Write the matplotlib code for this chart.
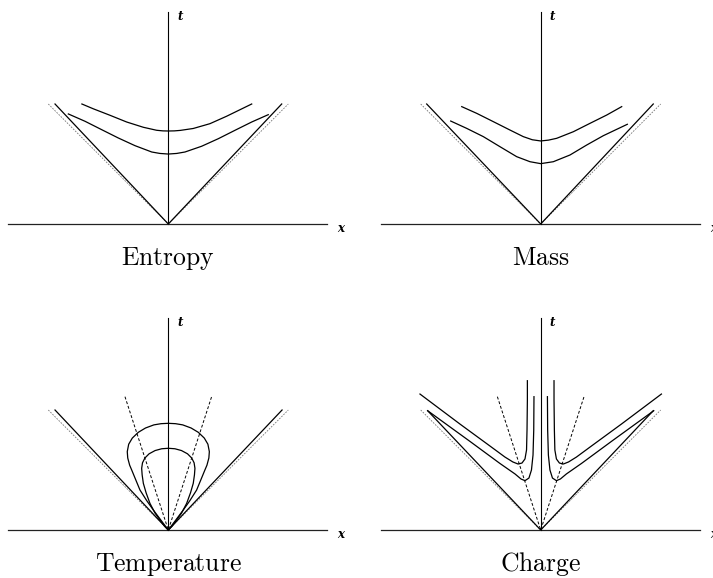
import matplotlib
matplotlib.use('Agg')
import matplotlib.pyplot as plt

plt.rcParams['mathtext.fontset'] = 'cm'

W, H = 713, 578
PX = 120.0  # pixels per unit, light cone reaches t=1

# ---- data (x, t in cone units) ----
# Entropy
ent_up_x = [-0.72, -0.625, -0.486, -0.347, -0.208, -0.097, -0.045, 0.0, 0.05, 0.1, 0.208, 0.347, 0.486, 0.695]
ent_up_t = [1.00, 0.96, 0.906, 0.85, 0.806, 0.781, 0.776, 0.775, 0.776, 0.780, 0.796, 0.836, 0.898, 1.00]
ent_lo_x = [-0.833, -0.694, -0.555, -0.417, -0.278, -0.138, -0.07, 0.0, 0.07, 0.139, 0.278, 0.417, 0.556, 0.695, 0.833]
ent_lo_t = [0.917, 0.856, 0.786, 0.717, 0.653, 0.60, 0.588, 0.583, 0.588, 0.60, 0.648, 0.711, 0.781, 0.85, 0.911]
ent_cone = [-0.944, 0.945]

# Mass
mass_up_x = [-0.658, -0.533, -0.395, -0.256, -0.145, -0.07, 0.0, 0.065, 0.133, 0.272, 0.411, 0.55, 0.675]
mass_up_t = [0.978, 0.922, 0.853, 0.783, 0.728, 0.702, 0.692, 0.699, 0.714, 0.769, 0.839, 0.908, 0.978]
mass_lo_x = [-0.75, -0.617, -0.478, -0.339, -0.2, -0.089, 0.0, 0.105, 0.244, 0.383, 0.522, 0.722]
mass_lo_t = [0.858, 0.797, 0.728, 0.644, 0.561, 0.519, 0.503, 0.519, 0.575, 0.658, 0.736, 0.831]
mass_cone = [-0.95, 0.938]

# Temperature: left halves of the closed loops (origin -> top), mirrored for the right
temp_out_x = [0.0, -0.06, -0.125, -0.18, -0.236, -0.272, -0.305, -0.322, -0.338, -0.342,
              -0.33, -0.30, -0.25, -0.19, -0.12, -0.06, 0.0]
temp_out_t = [0.0, 0.08, 0.167, 0.245, 0.333, 0.42, 0.50, 0.54, 0.60, 0.653,
              0.715, 0.766, 0.814, 0.85, 0.876, 0.886, 0.889]
temp_in_x = [0.0, -0.03, -0.069, -0.11, -0.153, -0.185, -0.208, -0.218, -0.222,
             -0.215, -0.195, -0.16, -0.11, -0.055, 0.0]
temp_in_t = [0.0, 0.03, 0.083, 0.14, 0.222, 0.31, 0.389, 0.46, 0.514,
             0.56, 0.60, 0.635, 0.662, 0.677, 0.681]
temp_steep = [-0.361, 0.361]
steep_t = 1.111
temp_cone = [-0.944, 0.948]

# Charge (left branches; right branches mirrored)
chg_out_x = [-1.006, -0.673, -0.423, -0.298, -0.232, -0.189, -0.156, -0.131, -0.118, -0.114, -0.111, -0.111]
chg_out_t = [1.133, 0.883, 0.7, 0.608, 0.567, 0.55, 0.558, 0.592, 0.667, 0.833, 1.083, 1.244]
chg_in_x = [-0.942, -0.589, -0.339, -0.214, -0.164, -0.131, -0.098, -0.077, -0.064, -0.058, -0.056]
chg_in_t = [0.994, 0.738, 0.554, 0.467, 0.425, 0.411, 0.433, 0.5, 0.625, 0.833, 1.111]
chg_cone = [-0.942, 0.938]

# panel origins in pixels (from top-left) and axis extents
origins = [(168.3, 224), (540.7, 224), (168.3, 530), (540.7, 530)]
titles = ['Entropy', 'Mass', 'Temperature', 'Charge']
x_left, x_right, t_top = -1.333, 1.325, 1.77

fig = plt.figure(figsize=(W / 100, H / 100), dpi=100)


def panel(i):
    ox, oy = origins[i]
    ax = fig.add_axes([0, 0, 1, 1])
    ax.set_xlim(-ox / PX, (W - ox) / PX)
    ax.set_ylim(-(H - oy) / PX, oy / PX)
    ax.axis('off')
    ax.patch.set_alpha(0)
    # axes
    ax.plot([x_left, x_right], [0, 0], color='#222222', lw=0.9)
    ax.plot([0, 0], [0, t_top], color='black', lw=0.8)
    ax.text(0.075, t_top - 0.045, 't', family='DejaVu Serif', style='italic', weight='heavy',
            fontsize=8.5, ha='left', va='center')
    ax.text(x_right + 0.085, -0.035, 'x', family='DejaVu Serif', style='italic', weight='heavy',
            fontsize=8.5, ha='left', va='center')
    ax.text(0.0, -0.285, r'$\mathrm{%s}$' % titles[i], fontsize=18.5, ha='center', va='center')
    # light cone (thin grey dashed)
    ax.plot([-1, 0, 1], [1, 0, 1], color='#777777', lw=0.6, ls=(0, (2, 1.5)))
    return ax


# Entropy
ax = panel(0)
ax.plot([ent_cone[0], 0, ent_cone[1]], [1, 0, 1], color='black', lw=0.9)
ax.plot(ent_up_x, ent_up_t, color='black', lw=0.9)
ax.plot(ent_lo_x, ent_lo_t, color='black', lw=0.9)

# Mass
ax = panel(1)
ax.plot([mass_cone[0], 0, mass_cone[1]], [1, 0, 1], color='black', lw=0.9)
ax.plot(mass_up_x, mass_up_t, color='black', lw=0.9)
ax.plot(mass_lo_x, mass_lo_t, color='black', lw=0.9)

# Temperature
ax = panel(2)
ax.plot([temp_cone[0], 0, temp_cone[1]], [1, 0, 1], color='black', lw=0.9)
ax.plot([temp_steep[0], 0, temp_steep[1]], [steep_t, 0, steep_t], color='black', lw=0.7, ls=(0, (3, 2)))
for xs, ts in [(temp_out_x, temp_out_t), (temp_in_x, temp_in_t)]:
    ax.plot(xs + [-v for v in xs[::-1]], ts + ts[::-1], color='black', lw=0.9)

# Charge
ax = panel(3)
ax.plot([chg_cone[0], 0, chg_cone[1]], [0.994, 0, 0.994], color='black', lw=0.9)
ax.plot([temp_steep[0], 0, temp_steep[1]], [steep_t, 0, steep_t], color='black', lw=0.7, ls=(0, (3, 2)))
for xs, ts in [(chg_out_x, chg_out_t), (chg_in_x, chg_in_t)]:
    ax.plot(xs, ts, color='black', lw=0.9)
    ax.plot([-v for v in xs], ts, color='black', lw=0.9)

fig.savefig('out.png', dpi=100)
